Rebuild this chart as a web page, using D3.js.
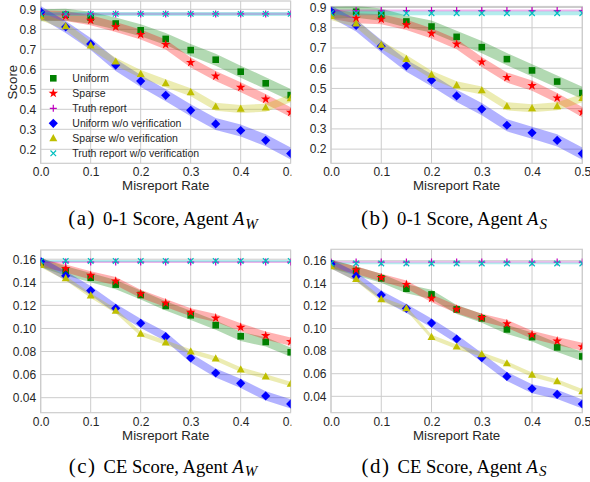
<!DOCTYPE html>
<html>
<head>
<meta charset="utf-8">
<script src="https://cdn.jsdelivr.net/npm/d3@7"></script>
<style>
  body { margin: 0; background: #fff; }
  svg { display: block; }
</style>
</head>
<body>
<div id="chart"></div>
<script>
// x values shared by all four panels
const misreportRate = [0, 0.05, 0.1, 0.15, 0.2, 0.25, 0.3, 0.35, 0.4, 0.45, 0.5];
const xTicks = [0, 0.1, 0.2, 0.3, 0.4, 0.5];

const seriesNames = ["Uniform", "Sparse", "Truth report",
  "Uniform w/o verification", "Sparse w/o verification", "Truth report w/o verification"];

// (a) 0-1 score, agent A_W
const aUniform = [0.870, 0.873, 0.858, 0.829, 0.795, 0.752, 0.696, 0.648, 0.588, 0.530, 0.471];
const aSparse = [0.870, 0.866, 0.845, 0.812, 0.774, 0.724, 0.634, 0.566, 0.510, 0.451, 0.385];
const aTruth = [0.877, 0.877, 0.877, 0.877, 0.877, 0.877, 0.877, 0.877, 0.877, 0.877, 0.877];
const aUniformNoVer = [0.887, 0.812, 0.727, 0.621, 0.541, 0.470, 0.395, 0.327, 0.294, 0.245, 0.179];
const aSparseNoVer = [0.865, 0.815, 0.719, 0.638, 0.576, 0.530, 0.485, 0.413, 0.402, 0.408, 0.455];
const aTruthNoVer = [0.877, 0.877, 0.877, 0.877, 0.877, 0.877, 0.877, 0.877, 0.877, 0.877, 0.877];
const aSpread = [0.03, 0.025, 0.006, 0.03, 0.02, 0.01];

// (b) 0-1 score, agent A_S
const bUniform = [0.875, 0.879, 0.865, 0.831, 0.806, 0.755, 0.704, 0.645, 0.589, 0.534, 0.478];
const bSparse = [0.870, 0.847, 0.842, 0.814, 0.772, 0.719, 0.631, 0.554, 0.514, 0.453, 0.383];
const bTruth = [0.885, 0.885, 0.885, 0.885, 0.885, 0.885, 0.885, 0.885, 0.885, 0.885, 0.885];
const bUniformNoVer = [0.880, 0.811, 0.709, 0.612, 0.541, 0.463, 0.398, 0.318, 0.281, 0.243, 0.178];
const bSparseNoVer = [0.858, 0.821, 0.715, 0.645, 0.567, 0.515, 0.490, 0.412, 0.402, 0.412, 0.452];
const bTruthNoVer = [0.872, 0.872, 0.872, 0.872, 0.872, 0.872, 0.872, 0.872, 0.872, 0.872, 0.872];
const bSpread = [0.03, 0.025, 0.005, 0.03, 0.02, 0.01];

// (c) CE score, agent A_W
const cUniform = [0.157, 0.150, 0.144, 0.138, 0.129, 0.1195, 0.1114, 0.1028, 0.0932, 0.0883, 0.0794];
const cSparse = [0.157, 0.152, 0.146, 0.141, 0.130, 0.122, 0.114, 0.109, 0.101, 0.0938, 0.0886];
const cTruth = [0.1575, 0.1575, 0.1575, 0.1575, 0.1575, 0.1575, 0.1575, 0.1575, 0.1575, 0.1575, 0.1575];
const cUniformNoVer = [0.158, 0.1456, 0.1328, 0.1175, 0.1045, 0.0929, 0.0745, 0.0614, 0.0525, 0.0415, 0.0346];
const cSparseNoVer = [0.155, 0.1435, 0.1285, 0.1152, 0.0953, 0.0877, 0.080, 0.0739, 0.0643, 0.0583, 0.0519];
const cTruthNoVer = [0.1585, 0.1585, 0.1585, 0.1585, 0.1585, 0.1585, 0.1585, 0.1585, 0.1585, 0.1585, 0.1585];
const cSpread = [0.004, 0.0035, 0.0007, 0.004, 0.002, 0.0008];

// (d) CE score, agent A_S
const dUniform = [0.157, 0.1509, 0.1444, 0.1352, 0.1302, 0.1169, 0.109, 0.0992, 0.0924, 0.0833, 0.0753];
const dSparse = [0.157, 0.1517, 0.145, 0.139, 0.1267, 0.117, 0.1096, 0.1042, 0.0945, 0.0889, 0.0839];
const dTruth = [0.1588, 0.1588, 0.1588, 0.1588, 0.1588, 0.1588, 0.1588, 0.1588, 0.1588, 0.1588, 0.1588];
const dUniformNoVer = [0.157, 0.1461, 0.1296, 0.1178, 0.1048, 0.0907, 0.0743, 0.0576, 0.0467, 0.0417, 0.0332];
const dSparseNoVer = [0.155, 0.1438, 0.1258, 0.1178, 0.0925, 0.0839, 0.0771, 0.0691, 0.0591, 0.0532, 0.0444];
const dTruthNoVer = [0.1576, 0.1576, 0.1576, 0.1576, 0.1576, 0.1576, 0.1576, 0.1576, 0.1576, 0.1576, 0.1576];
const dSpread = [0.004, 0.0035, 0.0007, 0.004, 0.002, 0.0008];

const scoreTicks = [0.2, 0.3, 0.4, 0.5, 0.6, 0.7, 0.8, 0.9];
const ceTicks = [0.04, 0.06, 0.08, 0.10, 0.12, 0.14, 0.16];

// matplotlib style colours / markers per series
const colors = ["#008000", "#ff0000", "#bf00bf", "#0000ff", "#bfbf00", "#00bfbf"];
const markers = ["square", "star", "plus", "diamond", "triangle", "cross"];

const width = 590, height = 482;
const gridColor = "#cccccc";
const textColor = "#262626";
const sans = "'Liberation Sans', Arial, sans-serif";
const serif = "'Liberation Serif', 'Times New Roman', serif";

const svg = d3.select("#chart").append("svg")
  .attr("width", width).attr("height", height);

function drawMarker(g, kind, color) {
  if (kind === "square") {
    g.append("rect").attr("x", -3.3).attr("y", -3.3).attr("width", 6.6).attr("height", 6.6).attr("fill", color);
  } else if (kind === "star") {
    g.append("path").attr("d", d3.symbol(d3.symbolStar, 28)()).attr("fill", color);
  } else if (kind === "plus") {
    g.append("path").attr("d", "M-3.5,0H3.5M0,-3.5V3.5").attr("stroke", color).attr("stroke-width", 1.2);
  } else if (kind === "diamond") {
    g.append("path").attr("d", "M0,-4.6L4.6,0L0,4.6L-4.6,0Z").attr("fill", color);
  } else if (kind === "triangle") {
    g.append("path").attr("d", "M0,-4.3L4,2.9L-4,2.9Z").attr("fill", color);
  } else if (kind === "cross") {
    g.append("path").attr("d", "M-2.8,-2.8L2.8,2.8M-2.8,2.8L2.8,-2.8").attr("stroke", color).attr("stroke-width", 1.2);
  }
}

let clipId = 0;
function drawPanel(p) {
  const g = svg.append("g");
  if (p.clipRight) {
    const id = "panelclip" + (clipId++);
    svg.append("clipPath").attr("id", id).append("rect")
      .attr("x", 0).attr("y", 0).attr("width", p.clipRight).attr("height", height);
    g.attr("clip-path", `url(#${id})`);
  }

  const x = d3.scaleLinear().domain([0, 0.5]).range([p.left, p.right]);
  const y = d3.scaleLinear().domain(p.yDomain).range([p.bottom, p.top]);

  // grid
  g.selectAll(".vgrid").data(xTicks).join("line")
    .attr("x1", d => x(d)).attr("x2", d => x(d))
    .attr("y1", p.top).attr("y2", p.bottom)
    .attr("stroke", gridColor).attr("stroke-width", 1);
  g.selectAll(".hgrid").data(p.yTicks).join("line")
    .attr("x1", p.left).attr("x2", p.right)
    .attr("y1", d => y(d)).attr("y2", d => y(d))
    .attr("stroke", gridColor).attr("stroke-width", 1);

  // frame
  g.append("rect").attr("x", p.left).attr("y", p.top)
    .attr("width", p.right - p.left).attr("height", p.bottom - p.top)
    .attr("fill", "none").attr("stroke", gridColor).attr("stroke-width", 1.2);

  const id = "plotclip" + (clipId++);
  svg.append("clipPath").attr("id", id).append("rect")
    .attr("x", p.left).attr("y", p.top)
    .attr("width", p.right - p.left).attr("height", p.bottom - p.top);
  const plot = g.append("g").attr("clip-path", `url(#${id})`);

  // shaded bands first, markers on top
  p.series.forEach((vals, i) => {
    const h = p.spread[i];
    const area = d3.area()
      .x((d, j) => x(misreportRate[j]))
      .y0(d => y(d - h))
      .y1(d => y(d + h));
    plot.append("path").datum(vals)
      .attr("d", area)
      .attr("fill", colors[i]).attr("fill-opacity", 0.3);
  });
  p.series.forEach((vals, i) => {
    vals.forEach((v, j) => {
      const m = plot.append("g").attr("transform", `translate(${x(misreportRate[j])},${y(v)})`);
      drawMarker(m, markers[i], colors[i]);
    });
  });

  // axes
  const xAxis = d3.axisBottom(x).tickValues(xTicks).tickSize(0).tickPadding(4.5).tickFormat(d3.format(".1f"));
  g.append("g").attr("transform", `translate(0,${p.bottom})`).call(xAxis)
    .call(a => a.select(".domain").remove())
    .selectAll("text").attr("font-size", 12).attr("fill", textColor).attr("font-family", sans);
  const yAxis = d3.axisLeft(y).tickValues(p.yTicks).tickSize(0).tickPadding(4.5).tickFormat(d3.format(p.yFormat));
  g.append("g").attr("transform", `translate(${p.left},0)`).call(yAxis)
    .call(a => a.select(".domain").remove())
    .selectAll("text").attr("font-size", 12).attr("fill", textColor).attr("font-family", sans);

  g.append("text")
    .attr("x", (p.left + p.right) / 2).attr("y", p.bottom + 27)
    .attr("text-anchor", "middle")
    .attr("font-family", sans).attr("font-size", 13.3).attr("fill", textColor)
    .text("Misreport Rate");

  if (p.yLabel) {
    g.append("text")
      .attr("transform", `translate(16.5,${(p.top + p.bottom) / 2}) rotate(-90)`)
      .attr("text-anchor", "middle")
      .attr("font-family", sans).attr("font-size", 13.3).attr("fill", textColor)
      .text(p.yLabel);
  }

  if (p.legend) {
    seriesNames.forEach((name, i) => {
      const ry = 78.3 + i * 15;
      const m = g.append("g").attr("transform", `translate(53.3,${ry})`);
      drawMarker(m, markers[i], colors[i]);
      g.append("text").attr("x", 72.3).attr("y", ry + 3.8)
        .attr("font-family", sans).attr("font-size", 10.5).attr("fill", textColor)
        .text(name);
    });
  }

  // caption
  const cap = svg.append("text")
    .attr("x", p.capX).attr("y", p.capY)
    .attr("text-anchor", "middle")
    .attr("font-family", serif).attr("font-size", 18.6).attr("fill", "#000");
  cap.append("tspan").attr("font-size", 21).attr("letter-spacing", 1.5).text(p.capLetter);
  cap.append("tspan").attr("dx", 7).text(p.capText);
  cap.append("tspan").attr("dx", 4.5).attr("font-style", "italic").text("A");
  cap.append("tspan").attr("font-style", "italic").attr("font-size", 15).attr("dx", 1).attr("dy", 3.5).text(p.capSub);
}

drawPanel({
  left: 40.7, right: 290.7, top: 1, bottom: 163.3,
  yDomain: [0.13, 0.9415], yTicks: scoreTicks, yFormat: ".1f",
  series: [aUniform, aSparse, aTruth, aUniformNoVer, aSparseNoVer, aTruthNoVer],
  spread: aSpread, yLabel: "Score", legend: true, clipRight: 291.5,
  capX: 163, capY: 225, capLetter: "(a)", capText: "0-1 Score, Agent", capSub: "W"
});
drawPanel({
  left: 331, right: 582.3, top: 6.5, bottom: 163.3,
  yDomain: [0.13, 0.905], yTicks: scoreTicks, yFormat: ".1f",
  series: [bUniform, bSparse, bTruth, bUniformNoVer, bSparseNoVer, bTruthNoVer],
  spread: bSpread,
  capX: 454, capY: 225, capLetter: "(b)", capText: "0-1 Score, Agent", capSub: "S"
});
drawPanel({
  left: 40.7, right: 290.7, top: 250, bottom: 412.7,
  yDomain: [0.027, 0.168], yTicks: ceTicks, yFormat: ".2f",
  series: [cUniform, cSparse, cTruth, cUniformNoVer, cSparseNoVer, cTruthNoVer],
  spread: cSpread, clipRight: 291.5,
  capX: 163, capY: 472.5, capLetter: "(c)", capText: "CE Score, Agent", capSub: "W"
});
drawPanel({
  left: 331, right: 582.3, top: 249.3, bottom: 412.7,
  yDomain: [0.0255, 0.1701], yTicks: ceTicks, yFormat: ".2f",
  series: [dUniform, dSparse, dTruth, dUniformNoVer, dSparseNoVer, dTruthNoVer],
  spread: dSpread,
  capX: 454, capY: 472.5, capLetter: "(d)", capText: "CE Score, Agent", capSub: "S"
});
</script>
</body>
</html>
